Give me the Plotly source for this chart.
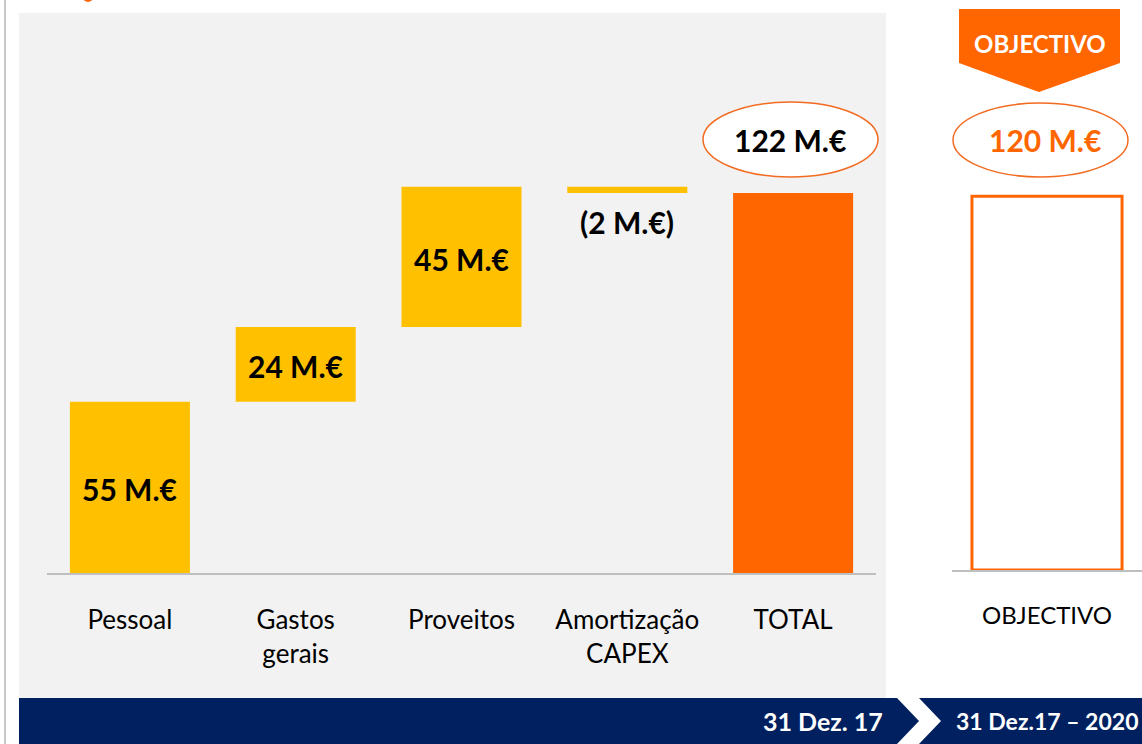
import plotly.graph_objects as go

W, H = 1142, 744

# ---------------- data ----------------
categories = ["Pessoal", "Gastos<br>gerais", "Proveitos", "Amortização<br>CAPEX", "TOTAL"]
values = [55, 24, 45, -2, 122]
measures = ["relative", "relative", "relative", "relative", "total"]
value_labels = ["55 M.€", "24 M.€", "45 M.€", "(2 M.€)", "122 M.€"]

target_category = ["OBJECTIVO"]
target_value = [120]
target_label = ["120 M.€"]

period_labels = ["31 Dez. 17", "31 Dez.17 – 2020"]
arrow_label = "OBJECTIVO"

# ---------------- styles ----------------
YELLOW = "#FFC000"
ORANGE = "#FF6600"
NAVY = "#002060"
PANEL = "#F2F2F2"
AXIS = "#BFBFBF"
FONT = "Lato"

def px(x):
    return x / W

def py(y):
    return 1 - y / H

# waterfall bases computed from the data
bases, heights, colors = [], [], []
running = 0
for v, m in zip(values, measures):
    if m == "total":
        bases.append(0)
        heights.append(v)
        colors.append(ORANGE)
        running = v
    else:
        bases.append(running)
        heights.append(v)
        colors.append(YELLOW)
        running += v

fig = go.Figure()

fig.add_trace(go.Bar(
    x=categories, y=heights, base=bases,
    marker=dict(color=colors, line=dict(width=0)),
    width=0.724, xaxis="x", yaxis="y",
    hoverinfo="skip", showlegend=False,
))

fig.add_trace(go.Bar(
    x=target_category, y=target_value,
    marker=dict(color="white", line=dict(color=ORANGE, width=3)),
    width=0.79, xaxis="x2", yaxis="y2",
    hoverinfo="skip", showlegend=False,
))

annotations = []
for i, (c, v, m, lab) in enumerate(zip(categories, values, measures, value_labels)):
    if m == "total":
        annotations.append(dict(x=c, y=v, xref="x", yref="y", text=lab, showarrow=False,
                                yanchor="middle", yshift=53, xshift=-3,
                                font=dict(family=FONT, size=30, color="#000000", weight="bold")))
    elif v >= 0:
        annotations.append(dict(x=c, y=bases[i] + v / 2, xref="x", yref="y", text=lab,
                                showarrow=False, yanchor="middle", yshift=-2,
                                font=dict(family=FONT, size=30, color="#000000", weight="bold")))
    else:
        annotations.append(dict(x=c, y=bases[i] + v, xref="x", yref="y", text=lab,
                                showarrow=False, yanchor="middle", yshift=-29,
                                font=dict(family=FONT, size=30, color="#000000", weight="bold")))

annotations.append(dict(x=target_category[0], y=target_value[0], xref="x2", yref="y2",
                        text=target_label[0], showarrow=False, yanchor="middle", yshift=56, xshift=-2,
                        font=dict(family=FONT, size=30, color=ORANGE, weight="bold")))

# banner texts
annotations.append(dict(x=px(885), y=py(721), xref="paper", yref="paper", text=period_labels[0],
                        showarrow=False, xanchor="right", yanchor="middle",
                        font=dict(family=FONT, size=25, color="white", weight="bold")))
annotations.append(dict(x=px(1140), y=py(721), xref="paper", yref="paper", text=period_labels[1],
                        showarrow=False, xanchor="right", yanchor="middle",
                        font=dict(family=FONT, size=23, color="white", weight="bold")))
annotations.append(dict(x=px(1040), y=py(44), xref="paper", yref="paper", text=arrow_label,
                        showarrow=False, xanchor="center", yanchor="middle",
                        font=dict(family=FONT, size=24, color="white", weight="bold")))

def path(points):
    s = "M " + " L ".join(f"{px(x):.5f},{py(y):.5f}" for x, y in points) + " Z"
    return s

shapes = [
    # grey panel
    dict(type="rect", xref="paper", yref="paper", x0=px(19), x1=px(886), y0=py(698), y1=py(13),
         fillcolor=PANEL, line=dict(width=0), layer="below"),
    # left vertical rule
    dict(type="line", xref="paper", yref="paper", x0=px(5), x1=px(5), y0=0, y1=1,
         line=dict(color="#C8C8C8", width=2), layer="below"),
    # tiny cut-off mark at top
    dict(type="circle", xref="paper", yref="paper", x0=px(83), x1=px(93), y0=py(2), y1=py(-8),
         fillcolor=ORANGE, line=dict(width=0), layer="below"),
    # banner pieces
    dict(type="path", xref="paper", yref="paper",
         path=path([(19, 698), (897, 698), (919, 721), (897, 744), (19, 744)]),
         fillcolor=NAVY, line=dict(width=0), layer="below"),
    dict(type="path", xref="paper", yref="paper",
         path=path([(919, 698), (1142, 698), (1142, 744), (919, 744), (941, 721)]),
         fillcolor=NAVY, line=dict(width=0), layer="below"),
    # OBJECTIVO arrow
    dict(type="path", xref="paper", yref="paper",
         path=path([(959, 9), (1120, 9), (1120, 63), (1039, 92), (959, 63)]),
         fillcolor=ORANGE, line=dict(width=0), layer="below"),
    # ellipses
    dict(type="circle", xref="paper", yref="paper", x0=px(703), x1=px(878), y0=py(177), y1=py(102),
         fillcolor="white", line=dict(color="#F26B21", width=1.5), layer="below"),
    dict(type="circle", xref="paper", yref="paper", x0=px(953), x1=px(1128), y0=py(177), y1=py(103),
         fillcolor="white", line=dict(color="#F26B21", width=1.5), layer="below"),
]

SCALE = 3.115
fig.update_layout(
    width=W, height=H, autosize=False,
    margin=dict(l=0, r=0, t=0, b=0),
    paper_bgcolor="white", plot_bgcolor="rgba(0,0,0,0)",
    barmode="overlay", showlegend=False,
    font=dict(family=FONT, color="#000000"),
    xaxis=dict(domain=[px(47), px(876)], anchor="y", range=[-0.5, 4.5], type="category",
               showline=True, linecolor=AXIS, linewidth=2, ticks="", showgrid=False,
               zeroline=False, tickfont=dict(family=FONT, size=26, color="#000000"),
               ticklabelstandoff=23, fixedrange=True),
    yaxis=dict(domain=[171 / H, (171 + 180 * SCALE) / H], range=[0, 180], visible=False,
               fixedrange=True),
    xaxis2=dict(domain=[px(952), 1.0], anchor="y2", range=[-0.5, 0.5], type="category",
                showline=True, linecolor=AXIS, linewidth=2, ticks="", showgrid=False,
                zeroline=False, tickfont=dict(family=FONT, size=24, color="#000000"),
                ticklabelstandoff=23, fixedrange=True),
    yaxis2=dict(domain=[174 / H, (174 + 180 * SCALE) / H], range=[0, 180], visible=False,
                fixedrange=True),
    shapes=shapes, annotations=annotations,
)

fig.write_html("out.html", config=dict(displayModeBar=False),
               post_script="document.body.style.margin='0';")
